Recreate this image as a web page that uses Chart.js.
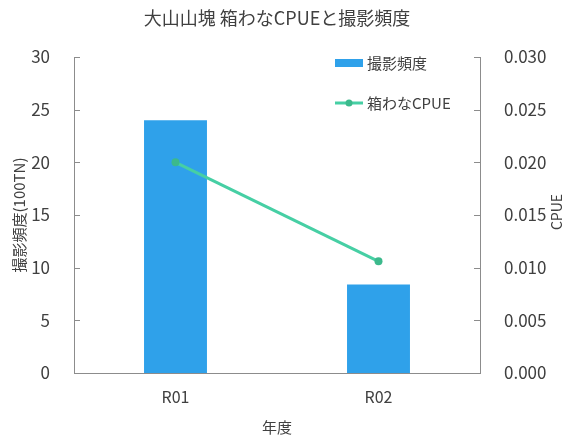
<!DOCTYPE html>
<html lang="ja">
<head>
  <meta charset="UTF-8" />
  <title>大山山塊 箱わなCPUEと撮影頻度</title>
  <script src="https://cdn.jsdelivr.net/npm/chart.js"></script>
  <style>
    body { margin: 0; background: #fff; }
    #wrap { width: 568px; height: 438px; }
  </style>
</head>
<body>
  <div id="wrap"><canvas id="chart" width="568" height="438"></canvas></div>

  <script>
    // data
    const years = ["R01", "R02"];
    const photoFreq = [24, 8.4];        // 撮影頻度 (100TN)
    const cpue = [0.0200, 0.0106];      // 箱わなCPUE

    const TITLE = "大山山塊 箱わなCPUEと撮影頻度";
    const FONT = "'Noto Sans CJK JP', 'Noto Sans', sans-serif";
    const TEXT = "#404040";
    const AXIS = "#8c8c8c";

    // title, inward tick marks on both y axes, right axis title, legend inside plot
    const extras = {
      id: "extras",
      afterDraw(chart) {
        const ctx = chart.ctx;
        const area = chart.chartArea;
        ctx.save();
        ctx.fillStyle = TEXT;
        ctx.font = "18px " + FONT;
        ctx.textAlign = "center";
        ctx.textBaseline = "middle";
        ctx.fillText(TITLE, (area.left + area.right) / 2, 18);

        ctx.strokeStyle = AXIS;
        ctx.lineWidth = 1;
        ["y", "y2"].forEach(id => {
          const s = chart.scales[id];
          const x = id === "y" ? area.left : area.right;
          const dir = id === "y" ? 1 : -1;
          s.ticks.forEach(t => {
            const py = Math.round(s.getPixelForValue(t.value)) + 0.5;
            ctx.beginPath();
            ctx.moveTo(x, py);
            ctx.lineTo(x + dir * 6, py);
            ctx.stroke();
          });
        });

        // right axis title, reading bottom to top
        ctx.font = "14px " + FONT;
        ctx.translate(557, 212);
        ctx.rotate(-Math.PI / 2);
        ctx.fillText("CPUE", 0, 0);
        ctx.restore();

        // legend, bar first
        ctx.save();
        ctx.font = "15px " + FONT;
        ctx.textBaseline = "middle";
        ctx.textAlign = "left";
        const lx = 335, rows = [63, 103];
        const items = chart.data.datasets.slice().sort((a, b) => a.legendOrder - b.legendOrder);
        items.forEach((ds, i) => {
          const y = rows[i];
          if (ds.type === "bar") {
            ctx.fillStyle = ds.backgroundColor;
            ctx.fillRect(lx, y - 4, 28, 8);
          } else {
            ctx.strokeStyle = ds.borderColor;
            ctx.lineWidth = 3;
            ctx.beginPath();
            ctx.moveTo(lx, y);
            ctx.lineTo(lx + 28, y);
            ctx.stroke();
            ctx.fillStyle = ds.pointBackgroundColor;
            ctx.beginPath();
            ctx.arc(lx + 14, y, 3.5, 0, Math.PI * 2);
            ctx.fill();
          }
          ctx.fillStyle = TEXT;
          ctx.fillText(ds.label, lx + 32, y);
        });
        ctx.restore();
      }
    };

    new Chart(document.getElementById("chart"), {
      data: {
        labels: years,
        datasets: [
          {
            type: "line",
            label: "箱わなCPUE",
            legendOrder: 2,
            data: cpue,
            yAxisID: "y2",
            borderColor: "#46cfa4",
            borderWidth: 3,
            pointRadius: 4,
            pointBackgroundColor: "#3cb98c",
            pointBorderWidth: 0,
            tension: 0,
            order: 1
          },
          {
            type: "bar",
            label: "撮影頻度",
            legendOrder: 1,
            data: photoFreq,
            yAxisID: "y",
            backgroundColor: "#2fa1ea",
            barPercentage: 0.62,
            categoryPercentage: 0.5,
            order: 2
          }
        ]
      },
      options: {
        responsive: false,
        animation: false,
        layout: { padding: { left: 6, right: 0, top: 57, bottom: 2 } },
        plugins: {
          legend: { display: false },
          tooltip: { enabled: false },
          title: { display: false }
        },
        scales: {
          x: {
            grid: { display: false },
            border: { color: AXIS },
            ticks: { color: TEXT, font: { family: FONT, size: 16 }, padding: 6 },
            title: {
              display: true,
              text: "年度",
              color: TEXT,
              font: { family: FONT, size: 15 },
              padding: { top: 6, bottom: 0 }
            },
            afterFit(s) { s.height = 63; }
          },
          y: {
            position: "left",
            min: 0,
            max: 30,
            ticks: { stepSize: 5, color: TEXT, font: { family: FONT, size: 17 }, padding: 16 },
            grid: { display: false },
            border: { color: AXIS },
            title: {
              display: true,
              text: "撮影頻度(100TN)",
              color: TEXT,
              font: { family: FONT, size: 15 },
              padding: { bottom: 2 }
            },
            afterFit(s) { s.width = 68; }
          },
          y2: {
            position: "right",
            min: 0,
            max: 0.03,
            ticks: {
              stepSize: 0.005,
              color: TEXT,
              font: { family: FONT, size: 17 },
              padding: 16,
              callback: v => v.toFixed(3)
            },
            grid: { display: false },
            border: { color: AXIS },
            afterFit(s) { s.width = 88; }
          }
        }
      },
      plugins: [extras]
    });
  </script>
</body>
</html>
